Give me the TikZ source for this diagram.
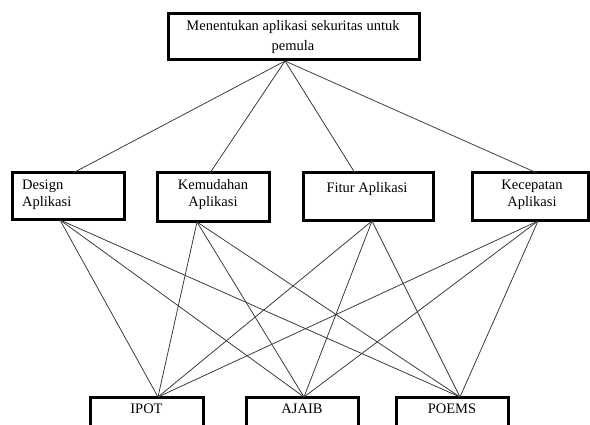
\documentclass[tikz,border=0pt]{standalone}
\usepackage{fontspec}
\setmainfont{Liberation Serif}
\begin{document}
\begin{tikzpicture}[x=1pt,y=-1pt,
  box/.style={draw=black,line width=3pt,rectangle,inner sep=0pt},
  txt/.style={font=\fontsize{14.5}{17}\selectfont,inner sep=0pt,align=center},
  link/.style={draw=black!80,line width=0.75pt}]
\useasboundingbox (0,0) rectangle (590,425);
\begin{scope}
\clip (0,0) rectangle (590,425);
% boxes
\node[box,minimum width=251pt,minimum height=46pt] (top) at (293.5,37) {};
\node[box,minimum width=112pt,minimum height=47pt] (design) at (68,196.5) {};
\node[box,minimum width=112pt,minimum height=49pt] (kemu) at (213,197.5) {};
\node[box,minimum width=130pt,minimum height=48pt] (fitur) at (368,197) {};
\node[box,minimum width=116pt,minimum height=48pt] (kece) at (530,197) {};
\node[box,minimum width=113pt,minimum height=38pt] (ipot) at (146.5,416) {};
\node[box,minimum width=112pt,minimum height=38pt] (ajaib) at (302,416) {};
\node[box,minimum width=112pt,minimum height=38pt] (poems) at (452,416) {};
\end{scope}
% texts
\node[txt,font=\fontsize{14.5}{20}\selectfont] (ttop) at (293,37) {Menentukan aplikasi sekuritas untuk\\pemula};
\node[txt,align=left,anchor=west] (tdesign) at (22,195) {Design\\Aplikasi};
\node[txt] (tkemu) at (213,195) {Kemudahan\\Aplikasi};
\node[txt] (tfitur) at (367,189) {Fitur Aplikasi};
\node[txt] (tkece) at (532,195) {Kecepatan\\Aplikasi};
\node[txt] (tipot) at (146.5,409) {IPOT};
\node[txt] (tajaib) at (302,409) {AJAIB};
\node[txt] (tpoems) at (452,409) {POEMS};
% connection points
\coordinate (topB) at (285,61);
\coordinate (designT) at (73,173);
\coordinate (kemuT) at (210,173);
\coordinate (fiturT) at (355,173);
\coordinate (keceT) at (537,173);
\coordinate (designB) at (60,220);
\coordinate (kemuB) at (197,222);
\coordinate (fiturB) at (372,221);
\coordinate (keceB) at (538,221);
\coordinate (ipotT) at (158,397);
\coordinate (ajaibT) at (304,397);
\coordinate (poemsT) at (460,397);
% connectors
\foreach \m in {designT,kemuT,fiturT,keceT} \draw[link] (topB) -- (\m);
\foreach \m in {designB,kemuB,fiturB,keceB}
  \foreach \b in {ipotT,ajaibT,poemsT} \draw[link] (\m) -- (\b);
\end{tikzpicture}
\end{document}
